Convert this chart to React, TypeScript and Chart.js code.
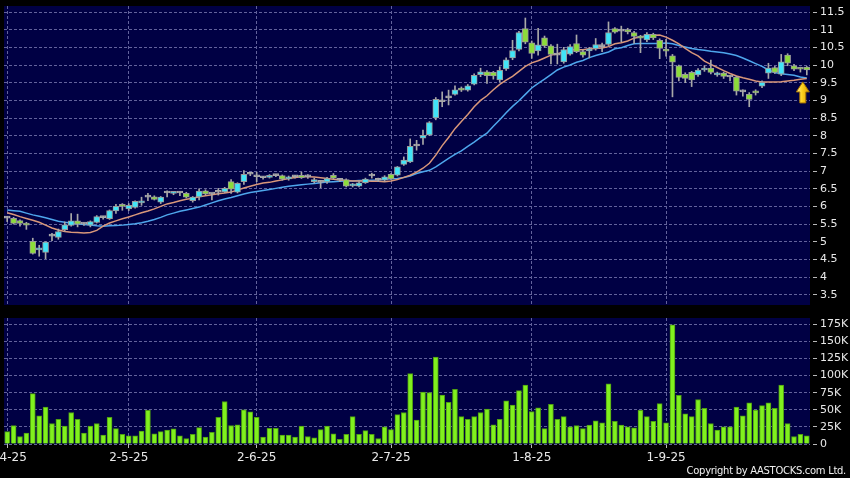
import React, { useEffect, useRef } from 'react';
import { Chart, registerables } from 'chart.js';

Chart.register(...registerables);

// ---------- data ----------
const opens = [5.67,5.66,5.60,5.53,5.01,4.77,4.70,5.16,5.12,5.34,
 5.46,5.59,5.50,5.47,5.55,5.68,5.65,5.87,6.06,5.93,
 5.97,6.10,6.26,6.27,6.12,6.38,6.37,6.38,6.37,6.16,
 6.27,6.44,6.35,6.40,6.41,6.70,6.40,6.70,6.91,6.84,
 6.81,6.82,6.87,6.87,6.78,6.84,6.88,6.84,6.70,6.68,
 6.69,6.88,6.74,6.76,6.58,6.57,6.67,6.86,6.74,6.74,
 6.91,6.88,7.19,7.26,7.71,7.93,8.02,8.50,8.96,9.07,
 9.17,9.35,9.29,9.46,9.73,9.81,9.79,9.58,9.89,10.20,
 10.44,11.03,10.63,10.40,10.77,10.54,10.28,10.09,10.31,10.61,
 10.38,10.40,10.46,10.52,10.58,11.03,10.96,11.00,10.92,10.81,
 10.71,10.87,10.70,10.45,10.26,9.98,9.74,9.79,9.72,9.86,
 9.91,9.72,9.77,9.66,9.66,9.24,9.17,9.26,9.40,9.77,
 9.93,9.74,10.28,9.98,9.92,9.94];

const highs = [5.72,5.69,5.62,5.55,5.10,4.90,5.00,5.24,5.36,5.56,
 5.80,5.78,5.54,5.59,5.74,5.72,5.90,6.06,6.08,6.08,
 6.16,6.26,6.37,6.30,6.28,6.44,6.40,6.42,6.40,6.28,
 6.50,6.47,6.37,6.51,6.54,6.76,6.67,7.01,6.96,6.97,
 6.85,6.90,6.91,6.89,6.86,6.88,6.97,6.90,6.80,6.73,
 6.82,6.93,6.79,6.78,6.65,6.70,6.80,6.94,6.80,6.87,
 6.93,7.13,7.40,7.91,7.87,8.16,8.40,9.08,9.24,9.29,
 9.41,9.38,9.45,9.75,9.91,9.84,9.82,9.95,10.20,10.70,
 10.95,11.33,10.68,11.04,10.82,10.58,10.59,10.50,10.58,10.85,
 10.42,10.50,10.75,10.62,11.22,11.06,11.10,11.04,10.95,10.84,
 10.92,10.90,10.74,10.73,10.30,10.00,9.78,9.82,9.90,9.98,
 10.14,9.80,9.80,9.70,9.68,9.30,9.22,9.30,9.55,10.05,
 9.96,10.30,10.32,10.02,9.94,9.96];

const lows = [5.57,5.50,5.44,5.35,4.65,4.59,4.52,5.03,5.07,5.30,
 5.44,5.42,5.46,5.42,5.53,5.64,5.63,5.80,5.89,5.88,
 5.95,6.03,6.16,6.18,6.08,6.27,6.33,6.30,6.24,6.12,
 6.18,6.33,6.18,6.32,6.39,6.37,6.38,6.62,6.87,6.70,
 6.77,6.80,6.84,6.74,6.74,6.80,6.79,6.79,6.66,6.53,
 6.65,6.78,6.70,6.55,6.55,6.55,6.65,6.80,6.70,6.71,
 6.76,6.86,7.16,7.24,7.59,7.75,8.00,8.45,8.82,8.87,
 9.15,9.25,9.26,9.44,9.67,9.48,9.60,9.52,9.85,10.15,
 10.40,10.60,10.19,10.28,10.50,10.03,10.03,10.05,10.28,10.35,
 10.22,10.20,10.42,10.38,10.55,10.90,10.66,10.88,10.61,10.35,
 10.66,10.72,10.18,10.25,9.10,9.55,9.50,9.39,9.68,9.82,
 9.75,9.68,9.62,9.55,9.15,9.12,8.82,9.15,9.36,9.62,
 9.76,9.70,9.98,9.84,9.80,9.72];

const closes = [5.67,5.52,5.52,5.47,4.67,4.80,4.99,5.16,5.29,5.48,
 5.59,5.50,5.50,5.57,5.71,5.68,5.88,6.00,6.00,6.03,
 6.14,6.12,6.26,6.20,6.26,6.38,6.39,6.38,6.26,6.26,
 6.43,6.35,6.35,6.40,6.51,6.49,6.65,6.91,6.91,6.84,
 6.81,6.87,6.87,6.77,6.84,6.84,6.81,6.84,6.76,6.68,
 6.79,6.80,6.74,6.57,6.62,6.67,6.77,6.86,6.74,6.84,
 6.78,7.12,7.31,7.70,7.71,8.01,8.37,9.03,8.96,9.07,
 9.30,9.29,9.41,9.71,9.81,9.70,9.69,9.85,10.15,10.41,
 10.92,10.65,10.33,10.57,10.54,10.30,10.28,10.44,10.52,10.38,
 10.28,10.46,10.58,10.52,10.92,10.93,10.96,10.94,10.81,10.76,
 10.87,10.77,10.47,10.39,10.08,9.65,9.62,9.58,9.86,9.90,
 9.79,9.76,9.68,9.66,9.26,9.24,9.03,9.21,9.51,9.91,
 9.79,10.09,10.05,9.88,9.88,9.86];

const volumeK = [18,27,11,16,73.5,41,54,30,36,26,
 46,36,16,26,30,13,39,22.5,14,12,
 12,19,49,15,18,20.5,22,12,8,14,
 24,10,17,39,62,27,28,50,47,39,
 10,23,23,13,13,10,26,11,9,21,
 26,15,7,14,40,14,19.5,14,8,25,
 21,43,46,103,35,76,75,127,71.5,61,
 80,40,36,40,46,51,28,36,63,57,
 78,86,47.5,53,22.5,58,36,40,25,27,
 22.5,27.5,34,31,88,33,27.5,25,23.5,49,
 40,33,59,31,174,71,44,40,65,52,
 30,20.5,25,25,54,41,60,49.5,56,60,
 52,86,30,11,14,12];

const maShort = [5.82,5.77,5.71,5.66,5.61,5.55,5.47,5.39,5.33,5.29,
 5.27,5.26,5.25,5.26,5.32,5.44,5.53,5.59,5.65,5.70,
 5.76,5.82,5.87,5.93,6.00,6.07,6.11,6.16,6.20,6.23,
 6.27,6.30,6.33,6.36,6.38,6.41,6.46,6.52,6.57,6.62,
 6.66,6.68,6.72,6.75,6.79,6.82,6.84,6.84,6.83,6.81,
 6.79,6.77,6.75,6.73,6.72,6.72,6.72,6.71,6.71,6.70,
 6.72,6.76,6.82,6.88,6.97,7.08,7.22,7.45,7.72,7.95,
 8.20,8.40,8.60,8.82,9.00,9.13,9.30,9.45,9.57,9.68,
 9.82,9.96,10.06,10.12,10.20,10.28,10.31,10.38,10.44,10.43,
 10.43,10.46,10.47,10.48,10.52,10.60,10.63,10.68,10.76,10.80,
 10.82,10.84,10.85,10.79,10.70,10.60,10.47,10.35,10.26,10.11,
 10.02,9.93,9.84,9.76,9.69,9.64,9.60,9.55,9.52,9.52,
 9.52,9.53,9.55,9.57,9.60,9.62];

const maLong = [5.90,5.88,5.86,5.81,5.76,5.72,5.68,5.63,5.58,5.55,
 5.53,5.51,5.49,5.47,5.45,5.44,5.45,5.46,5.47,5.49,
 5.51,5.54,5.58,5.63,5.69,5.76,5.81,5.86,5.90,5.94,
 5.98,6.04,6.10,6.16,6.21,6.25,6.30,6.35,6.39,6.42,
 6.45,6.48,6.51,6.54,6.57,6.59,6.61,6.63,6.65,6.67,
 6.69,6.70,6.71,6.72,6.72,6.73,6.73,6.74,6.75,6.77,
 6.78,6.79,6.82,6.86,6.93,6.98,7.02,7.12,7.24,7.36,
 7.47,7.57,7.70,7.82,7.95,8.07,8.27,8.45,8.65,8.83,
 8.99,9.17,9.35,9.48,9.60,9.73,9.86,9.94,10.00,10.08,
 10.13,10.21,10.27,10.32,10.37,10.46,10.49,10.55,10.60,10.61,
 10.61,10.61,10.61,10.62,10.60,10.55,10.51,10.47,10.44,10.42,
 10.39,10.37,10.35,10.31,10.27,10.20,10.12,10.04,9.96,9.86,
 9.79,9.75,9.73,9.71,9.66,9.63];

const monthTickIdx = [0, 19, 39, 60, 82, 103];
const monthTickLabels = ['2-4-25', '2-5-25', '2-6-25', '2-7-25', '1-8-25', '1-9-25'];

const priceMin = 3.21;
const priceMax = 11.67;
const priceStep = 0.5;
const volMax = 184;
const volStep = 25;

// ---------- styles ----------
const NAVY = '#000044';
const GRID = '#62629c';
const TICK = '#b8b8b8';
const TEXT = '#e8e8e8';
const UP = '#41e4f7';
const DOWN = '#8cdc3a';
const FLAT = '#a8a8a8';
const BODY_EDGE = '#9a9a9a';
const WICK = '#a8a8a8';
const FONT = 'DejaVu Sans';

const labels = closes.map((_, i) => String(i));
const isMonth = (i: number) => monthTickIdx.indexOf(i) >= 0;

const plotBg = {
  id: 'plotBg',
  beforeDraw(chart: any) {
    const { ctx, chartArea: a } = chart;
    ctx.save();
    ctx.fillStyle = NAVY;
    ctx.fillRect(a.left, a.top, a.right - a.left, a.bottom - a.top);
    ctx.restore();
  },
};

const arrowMarker = {
  id: 'arrowMarker',
  afterDatasetsDraw(chart: any) {
    const { ctx, scales } = chart;
    const last = closes.length - 1;
    const cx = scales.x.getPixelForValue(last) - 4;
    const tip = scales.y.getPixelForValue(lows[last]) + 7;
    const headW = 13, headH = 10, shaftW = 6, shaftH = 11;
    ctx.save();
    const g = ctx.createLinearGradient(cx - headW / 2, 0, cx + headW / 2, 0);
    g.addColorStop(0, '#fff09a');
    g.addColorStop(0.45, '#ffd21e');
    g.addColorStop(1, '#d99800');
    ctx.beginPath();
    ctx.moveTo(cx, tip);
    ctx.lineTo(cx + headW / 2, tip + headH);
    ctx.lineTo(cx + shaftW / 2, tip + headH);
    ctx.lineTo(cx + shaftW / 2, tip + headH + shaftH);
    ctx.lineTo(cx - shaftW / 2, tip + headH + shaftH);
    ctx.lineTo(cx - shaftW / 2, tip + headH);
    ctx.lineTo(cx - headW / 2, tip + headH);
    ctx.closePath();
    ctx.fillStyle = g;
    ctx.fill();
    ctx.strokeStyle = '#a87400';
    ctx.lineWidth = 1;
    ctx.stroke();
    ctx.restore();
  },
};

function xScale(showLabels: boolean) {
  return {
    type: 'category',
    offset: true,
    grid: {
      offset: false,
      lineWidth: 1,
      color: (c: any) => (isMonth(c.index) ? GRID : 'rgba(0,0,0,0)'),
      drawTicks: showLabels,
      tickLength: 4,
      tickColor: (c: any) => (isMonth(c.index) ? TICK : 'rgba(0,0,0,0)'),
    },
    border: { display: false, dash: [3, 2] },
    ticks: {
      display: showLabels,
      autoSkip: false,
      maxRotation: 0,
      minRotation: 0,
      padding: 3,
      color: TEXT,
      font: { family: FONT, size: 12 },
      callback: (_v: any, i: number) => {
        const k = monthTickIdx.indexOf(i);
        return k >= 0 ? monthTickLabels[k] : '';
      },
    },
    afterFit: (s: any) => {
      s.height = showLabels ? 34 : 0;
      s.paddingLeft = 0;
      s.paddingRight = 0;
      s.paddingTop = 0;
      s.paddingBottom = 0;
    },
  };
}

function yScale(min: number, max: number, step: number, fmt: (v: number) => string) {
  return {
    position: 'right',
    min,
    max,
    grid: {
      color: GRID,
      lineWidth: 1,
      drawTicks: true,
      tickLength: 7,
      tickColor: TICK,
      tickBorderDash: [4, 3],
      tickBorderDashOffset: 4,
    },
    border: { display: false, dash: [3, 2] },
    ticks: {
      stepSize: step,
      includeBounds: false,
      padding: 3,
      color: TEXT,
      font: { family: FONT, size: 11 },
      callback: (v: any) => fmt(Number(v)),
    },
    afterFit: (s: any) => {
      s.width = 40;
      s.paddingTop = 0;
      s.paddingBottom = 0;
      s.paddingLeft = 0;
      s.paddingRight = 0;
    },
  };
}

export default function App() {
  const priceRef = useRef<HTMLCanvasElement>(null);
  const volRef = useRef<HTMLCanvasElement>(null);

  useEffect(() => {
    const bodies = opens.map((o, i) => [Math.min(o, closes[i]), Math.max(o, closes[i])]);
    const wicks = lows.map((l, i) => [l, highs[i]]);
    const bodyFill = opens.map((o, i) => (closes[i] > o ? UP : closes[i] < o ? DOWN : FLAT));
    const bodyEdge = opens.map((o, i) => (closes[i] === o ? FLAT : BODY_EDGE));

    const price = new Chart(priceRef.current as HTMLCanvasElement, {
      type: 'bar',
      data: {
        labels,
        datasets: [
          {
            type: 'line',
            data: maLong,
            borderColor: '#4ea6ec',
            borderWidth: 1.5,
            pointRadius: 0,
            tension: 0,
            order: 4,
          },
          {
            type: 'line',
            data: maShort,
            borderColor: '#d9977a',
            borderWidth: 1.5,
            pointRadius: 0,
            tension: 0,
            order: 3,
          },
          {
            type: 'bar',
            data: wicks,
            backgroundColor: WICK,
            borderWidth: 0,
            barThickness: 1,
            grouped: false,
            order: 2,
          },
          {
            type: 'bar',
            data: bodies,
            backgroundColor: bodyFill,
            borderColor: bodyEdge,
            borderWidth: 1,
            borderSkipped: false,
            barThickness: 6,
            minBarLength: 2,
            grouped: false,
            order: 1,
          },
        ],
      } as any,
      options: {
        responsive: false,
        maintainAspectRatio: false,
        animation: false,
        events: [],
        layout: { autoPadding: false, padding: { left: 4, top: 6, right: 0, bottom: 5 } },
        plugins: { legend: { display: false }, tooltip: { enabled: false } },
        scales: {
          x: xScale(false),
          y: yScale(priceMin, priceMax, priceStep, (v) => String(Math.round(v * 100) / 100)),
        },
      } as any,
      plugins: [plotBg, arrowMarker],
    });

    const vol = new Chart(volRef.current as HTMLCanvasElement, {
      type: 'bar',
      data: {
        labels,
        datasets: [
          {
            data: volumeK,
            backgroundColor: '#80f01e',
            borderColor: '#4e9e12',
            borderWidth: 1,
            borderSkipped: 'start',
            barThickness: 5,
          },
        ],
      } as any,
      options: {
        responsive: false,
        maintainAspectRatio: false,
        animation: false,
        events: [],
        layout: { autoPadding: false, padding: { left: 4, top: 8, right: 0, bottom: 0 } },
        plugins: { legend: { display: false }, tooltip: { enabled: false } },
        scales: {
          x: xScale(true),
          y: yScale(0, volMax, volStep, (v) => (v === 0 ? '0' : `${v}K`)),
        },
      } as any,
      plugins: [plotBg],
    });

    return () => {
      price.destroy();
      vol.destroy();
    };
  }, []);

  return (
    <div
      style={{
        position: 'absolute',
        left: 0,
        top: 0,
        width: 850,
        height: 478,
        background: '#000',
        overflow: 'hidden',
      }}
    >
      <canvas ref={priceRef} width={850} height={310} style={{ position: 'absolute', left: 0, top: 0 }} />
      <canvas ref={volRef} width={850} height={168} style={{ position: 'absolute', left: 0, top: 310 }} />
      <div
        style={{
          position: 'absolute',
          right: 4,
          top: 464,
          color: '#f0f0f0',
          fontFamily: 'DejaVu Sans, sans-serif',
          fontSize: 10,
          lineHeight: '14px',
          letterSpacing: '-0.3px',
          whiteSpace: 'nowrap',
        }}
      >
        Copyright by AASTOCKS.com Ltd.
      </div>
    </div>
  );
}
